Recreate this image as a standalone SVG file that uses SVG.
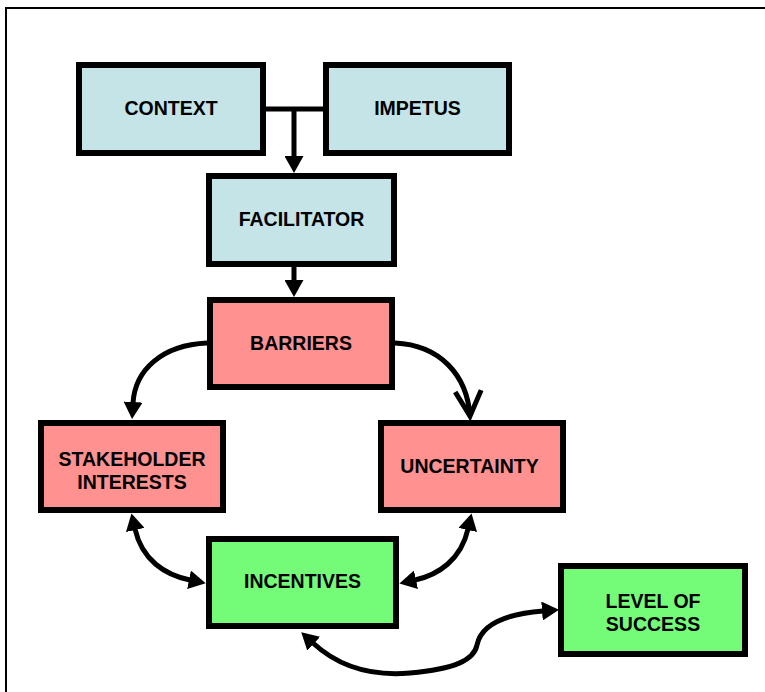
<svg xmlns="http://www.w3.org/2000/svg" width="765" height="692" viewBox="0 0 765 692">
<style>
.box{stroke:#000;stroke-width:6}
.blue{fill:#C4E4E7}
.red{fill:#FF9191}
.green{fill:#74FC78}
text{font-family:"Liberation Sans",Arial,sans-serif;font-weight:bold;font-size:19.5px;text-anchor:middle;fill:#000}
.c{fill:none;stroke:#000;stroke-width:5}
</style>
<defs>
<marker id="ah" markerUnits="userSpaceOnUse" viewBox="0 0 17 19" markerWidth="17" markerHeight="19" refX="1" refY="9.5" orient="auto-start-reverse">
<path d="M0,0 L17,9.5 L0,19 z" fill="#000"/>
</marker>
<marker id="av" markerUnits="userSpaceOnUse" viewBox="-4 -4 34 34" markerWidth="34" markerHeight="34" refX="25" refY="13" orient="auto">
<path d="M0,0 L25,13 L0,26" fill="none" stroke="#000" stroke-width="5" stroke-linejoin="miter"/>
</marker>
</defs>
<rect x="6" y="8" width="770" height="700" fill="none" stroke="#000" stroke-width="2"/>
<g id="connectors">
<path class="c" d="M266,109 L323,109"/>
<path class="c" d="M294,109 L294,157" marker-end="url(#ah)"/>
<path class="c" d="M294,267 L294,281" marker-end="url(#ah)"/>
<path class="c" d="M207,343 C162,345 135,370 133,403" marker-end="url(#ah)"/>
<path class="c" d="M395,343 C440,345 467,375 470,416" marker-end="url(#av)"/>
<path class="c" d="M135,529 C142,560 165,575 190,580" marker-start="url(#ah)" marker-end="url(#ah)"/>
<path class="c" d="M468,529 C461,560 438,575 415,580" marker-start="url(#ah)" marker-end="url(#ah)"/>
<path class="c" d="M313,643 C340,668 375,676 410,673 C455,669 474,660 477,645 C481,625 505,614 543,611" marker-start="url(#ah)" marker-end="url(#ah)"/>
</g>
<g id="context"><rect class="box blue" x="79" y="65" width="184" height="88"/><text x="171" y="115">CONTEXT</text></g>
<g id="impetus"><rect class="box blue" x="326" y="65" width="183" height="88"/><text x="417.5" y="115">IMPETUS</text></g>
<g id="facilitator"><rect class="box blue" x="209" y="176" width="185" height="88"/><text x="301.5" y="226">FACILITATOR</text></g>
<g id="barriers"><rect class="box red" x="210" y="300" width="182" height="87"/><text x="301" y="350">BARRIERS</text></g>
<g id="stakeholder"><rect class="box red" x="41" y="423" width="182" height="87"/><text x="132" y="466">STAKEHOLDER</text><text x="132" y="488.5">INTERESTS</text></g>
<g id="uncertainty"><rect class="box red" x="381" y="423" width="182" height="87"/><text x="469.5" y="473">UNCERTAINTY</text></g>
<g id="incentives"><rect class="box green" x="209" y="539" width="187" height="87"/><text x="302.5" y="588">INCENTIVES</text></g>
<g id="success"><rect class="box green" x="561" y="566" width="184" height="88"/><text x="653" y="608">LEVEL OF</text><text x="653" y="630.5">SUCCESS</text></g>
</svg>
